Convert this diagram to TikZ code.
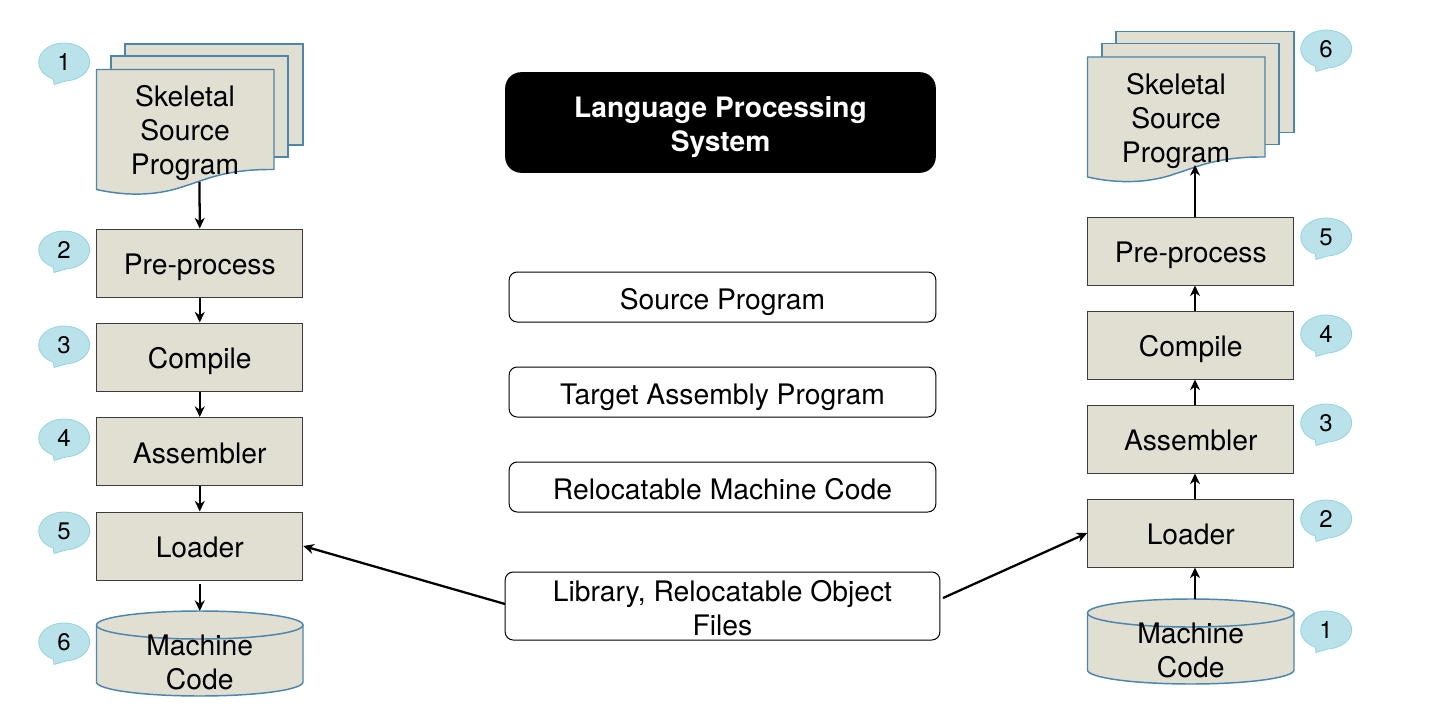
\documentclass[tikz,border=0pt]{standalone}
\usepackage{fontspec}
\setmainfont{TeX Gyre Heros}
\usetikzlibrary{arrows.meta}
\definecolor{paper}{HTML}{E1DED2}
\definecolor{edgeblue}{HTML}{4A86AE}
\definecolor{edgedark}{HTML}{3C3C3C}
\definecolor{bubblefill}{HTML}{B9E2EA}
\definecolor{bubbleedge}{HTML}{93D5DE}
\tikzset{
  label text/.style={font=\fontsize{21.2}{25.5}\selectfont,text=black,align=center,inner sep=0pt},
  stagebox/.style={label text,text height=17.5pt,text depth=0pt,draw=edgedark,line width=.75pt,fill=paper,minimum width=154.5pt,minimum height=51pt},
  sheet/.style={draw=edgeblue,line width=1.1pt,fill=paper},
  infobox/.style={label text,draw=black,line width=.75pt,fill=white,rounded corners=6pt,minimum width=320pt,minimum height=37.5pt},
  one line/.style={text height=18.5pt,text depth=0pt},
  flow/.style={draw=black,line width=1.7pt,-{Stealth[length=8pt,width=7.5pt]}},
  bubble shape/.style={draw=bubbleedge,line width=.6pt,fill=bubblefill},
  bubble text/.style={font=\fontsize{18}{20}\selectfont,text=black,inner sep=0pt},
}
\newcommand{\numbubble}[4]{%
  \draw[bubble shape] (#2-10.6,#3+17.2) arc[start angle=115,end angle=445,x radius=25.5,y radius=19] -- (#2-10,#3+22.5) -- cycle;
  \node[bubble text] (#1) at (#2,#3) {#4};}
\newcommand{\docstack}[2]{%
  \begin{scope}[shift={(#1,#2)}]
    \draw[sheet] (28.5,-25.5) rectangle (206.5,75.5);
    \draw[sheet] (14.5,-13.5) rectangle (191.5,87.5);
    \draw[sheet] (0,0) -- (177.5,0) -- (177.5,100) .. controls (128.5,99.5) and (108.5,110.5) .. (88.5,116.5) .. controls (63.5,125.5) and (33.5,127.5) .. (0,120) -- cycle;
  \end{scope}}
\newcommand{\drum}[2]{%
  \begin{scope}[shift={(#1,#2)}]
    \draw[sheet] (0,14) -- (0,71) arc[start angle=180,end angle=0,x radius=103.25,y radius=14] -- (206.5,14) arc[start angle=0,end angle=-180,x radius=103.25,y radius=14] -- cycle;
    \draw[sheet] (0,14) arc[start angle=180,end angle=0,x radius=103.25,y radius=14];
  \end{scope}}
\begin{document}
\begin{tikzpicture}[x=.75pt,y=-.75pt]
\useasboundingbox (0,0) rectangle (1432,710);

% left column
\docstack{96.5}{69.5}
\node[label text] (ldoc) at (185,133.5) {Skeletal\\Source\\Program};
\coordinate (ldocout) at (199.5,182);
\node[stagebox] (lpre) at (199.75,263) {Pre-process};
\node[stagebox] (lcomp) at (199.75,357) {Compile};
\node[stagebox] (lasm) at (199.75,451.5) {Assembler};
\node[stagebox] (lload) at (199.75,546) {Loader};
\drum{96.5}{611}
\node[label text] (lmc) at (199.75,662.5) {Machine\\Code};
\coordinate (ldrumtop) at (199.75,611);
\coordinate (lloadout) at (199.75,584);

% right column
\docstack{1087.5}{57}
\node[label text] (rdoc) at (1176,121.5) {Skeletal\\Source\\Program};
\coordinate (rdocin) at (1195,165);
\node[stagebox] (rpre) at (1190.75,251) {Pre-process};
\node[stagebox] (rcomp) at (1190.75,345) {Compile};
\node[stagebox] (rasm) at (1190.75,439) {Assembler};
\node[stagebox] (rload) at (1190.75,533) {Loader};
\drum{1087.5}{599}
\node[label text] (rmc) at (1190.75,650.5) {Machine\\Code};
\coordinate (rdrumtop) at (1195,599);

% centre
\node[label text,fill=black,rounded corners=12pt,minimum width=323pt,minimum height=75.5pt,text=white,font=\fontsize{21.1}{25.5}\selectfont\bfseries] (title) at (720.5,122.5) {\rule{0pt}{23pt}Language Processing\\System};
\node[infobox,one line] (src) at (722.5,297) {Source Program};
\node[infobox,one line] (tgt) at (722.5,392) {Target Assembly Program};
\node[infobox,one line] (rel) at (722.5,487) {Relocatable Machine Code};
\node[infobox,minimum width=326pt,minimum height=51pt] (lib) at (722.5,606) {\rule{0pt}{18.5pt}Library, Relocatable Object\\Files};

% connectors
\draw[flow] (ldocout) -- (lpre.north);
\draw[flow] (lpre) -- (lcomp);
\draw[flow] (lcomp) -- (lasm);
\draw[flow] (lasm) -- (lload);
\draw[flow] (lloadout) -- (ldrumtop);
\draw[flow] (rdrumtop) -- (rload.south -| rdrumtop);
\draw[flow] (rload.north -| rdrumtop) -- (rasm.south -| rdrumtop);
\draw[flow] (rasm.north -| rdrumtop) -- (rcomp.south -| rdrumtop);
\draw[flow] (rcomp.north -| rdrumtop) -- (rpre.south -| rdrumtop);
\draw[flow] (rpre.north -| rdrumtop) -- (rdocin);
\coordinate (libl) at (505,604);
\coordinate (libr) at (943,598);
\draw[flow] (libl) -- (lload.east);
\draw[flow] (libr) -- (rload.west);

% bubbles
\numbubble{la}{64}{62}{1}
\numbubble{lb}{64}{250}{2}
\numbubble{lc}{64}{345}{3}
\numbubble{ld}{64}{438}{4}
\numbubble{le}{64}{531}{5}
\numbubble{lf}{64}{642}{6}
\numbubble{rf}{1326}{49}{6}
\numbubble{re}{1326}{237}{5}
\numbubble{rd}{1326}{334}{4}
\numbubble{rc}{1326}{423}{3}
\numbubble{rb}{1326}{519}{2}
\numbubble{ra}{1326}{630}{1}
\end{tikzpicture}
\end{document}
